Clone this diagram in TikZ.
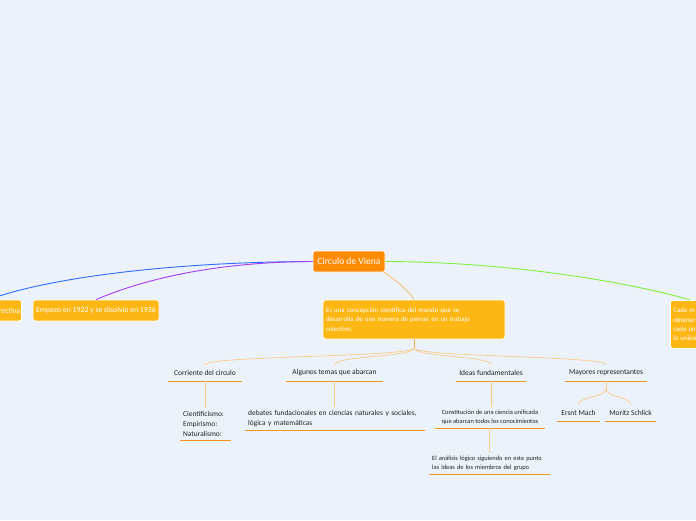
\documentclass[tikz,border=0pt]{standalone}
\usepackage{fontspec}
\setmainfont{Carlito}
\definecolor{bgc}{HTML}{EBF2F9}
\definecolor{rootc}{HTML}{FF8B05}
\definecolor{amber}{HTML}{FDB714}
\definecolor{ulc}{HTML}{F7941D}
\definecolor{connc}{HTML}{F8CC88}
\definecolor{bluec}{HTML}{2E6BFF}
\definecolor{purplec}{HTML}{A63CF5}
\definecolor{greenc}{HTML}{80F03C}
\definecolor{txt}{HTML}{222222}
\tikzset{
  rootbox/.style={fill=rootc, draw=white, line width=0.8pt, rounded corners=2pt, text=white,
    font=\fontsize{9.6}{10}\selectfont, minimum width=72, minimum height=21, inner sep=0pt},
  amberbox/.style={fill=amber, draw=white, line width=0.8pt, rounded corners=2.5pt, text=white,
    font=\fontsize{7.8}{9}\selectfont, minimum height=21, inner sep=0pt},
  topic/.style={font=\fontsize{7.5}{9}\selectfont, text=txt, minimum height=16, inner sep=0pt},
  leaf/.style={font=\fontsize{7.4}{10}\selectfont, text=txt, inner xsep=3pt, inner ysep=3pt, align=left},
  smallleaf/.style={font=\fontsize{6.4}{9}\selectfont, text=txt, inner xsep=3pt, inner ysep=3pt},
  uline/.style={draw=ulc, line width=1pt},
  conn/.style={draw=connc, line width=0.7pt},
}
\begin{document}
\begin{tikzpicture}[x=1pt, y=-1pt]
\useasboundingbox (0,0) rectangle (696,520);
\fill[bgc] (0,0) rectangle (696,520);
\clip (0,0) rectangle (696,520);

% main nodes
\node[rootbox] (root) at (349,261.5) {Circulo de Viena};
\node[amberbox, anchor=east, minimum width=80, text width=77, align=right] (left) at (22,310.5) {rectiva};
\node[amberbox, minimum width=126] (empezo) at (96,310.5) {Empezo en 1922 y se disolvio en 1936};
\node[amberbox, minimum width=182, minimum height=39, text width=176, align=left,
  font=\fontsize{6.8}{9.2}\selectfont] (concept) at (414,319.5)
  {Es una concepción científica del mundo que se\\desarrolla de una manera de pensar en un trabajo\\colectivo.};
\node[amberbox, anchor=north west, minimum width=60, minimum height=48, text width=54, align=left,
  font=\fontsize{6.8}{9.2}\selectfont] (right) at (670,300) {Cada m\\obtener\\cada un\\la unión};

% main connectors
\coordinate (lefttop) at (-12,300);
\draw[bluec, line width=0.9pt] (root.west) .. controls (160,262) and (40,280) .. (lefttop);
\draw[purplec, line width=0.9pt] (root.west) .. controls (200,262) and (130,285) .. (empezo.north);
\coordinate (righttop) at (690,300);
\draw[greenc, line width=0.9pt] (root.east) .. controls (520,262) and (640,285) .. (righttop);
\coordinate (rootse) at (384,272);
\draw[draw=ulc!70, line width=0.7pt] (rootse) .. controls (398,282) and (408,290) .. (concept.north);

% topics
\node[topic, minimum width=73] (corr) at (205,373) {Corriente del circulo};
\node[topic, minimum width=97] (temas) at (334.5,373) {Algunos temas que abarcan};
\node[topic, minimum width=70] (ideas) at (491,373) {Ideas fundamentales};
\node[topic, minimum width=82] (mayores) at (606,373) {Mayores representantes};
\foreach \n in {corr,temas,ideas,mayores}
  \draw[uline] (\n.south west) -- (\n.south east);

\coordinate (hub) at (414,348);
\draw[draw=ulc!80, line width=0.8pt] (concept.south) -- (hub);
\foreach \n in {corr,temas,ideas,mayores}
  \draw[conn] (hub) .. controls +(0,9) and +(0,-9) .. (\n.north);

% leaves
\node[leaf, anchor=south west, text width=45] (cien) at (180,440) {Cientificismo:\\Empirismo:\\Naturalismo:};
\draw[uline] (cien.south west) -- (cien.south east);
\node[leaf, anchor=south west, text width=174] (deb) at (245,430)
  {debates fundacionales en ciencias naturales y sociales,\\lógica y matemáticas};
\draw[uline] (deb.south west) -- (deb.south east);
\node[smallleaf, anchor=south, minimum width=110, align=center] (const) at (490,428)
  {Constitución de una ciencia unificada\\que abarcan todos los conocimientos};
\draw[uline] (const.south west) -- (const.south east);
\node[smallleaf, anchor=south west, text width=115, align=left] (anal) at (429,474)
  {El análisis lógico siguiendo en este punto\\las ideas de los miembros del grupo};
\draw[uline] (anal.south west) -- (anal.south east);
\node[topic, anchor=south, minimum width=43] (mach) at (578.5,421) {Ersnt Mach};
\draw[uline] (mach.south west) -- (mach.south east);
\node[topic, anchor=south, minimum width=51] (schlick) at (630.5,421) {Moritz Schlick};
\draw[uline] (schlick.south west) -- (schlick.south east);

% leaf connectors
\draw[conn] (corr.south) -- (corr.south |- cien.north);
\draw[conn] (temas.south) -- (temas.south |- deb.north);
\draw[conn] (ideas.south) -- (ideas.south |- const.north);
\coordinate (cbot) at (489,428);
\draw[conn] (cbot) -- (cbot |- anal.north);
\coordinate (hub2) at (606,389);
\draw[conn] (mayores.south) -- (hub2);
\draw[conn] (hub2) .. controls +(0,8) and +(0,-8) .. (mach.north);
\draw[conn] (hub2) .. controls +(0,8) and +(0,-8) .. (schlick.north);
\end{tikzpicture}
\end{document}
